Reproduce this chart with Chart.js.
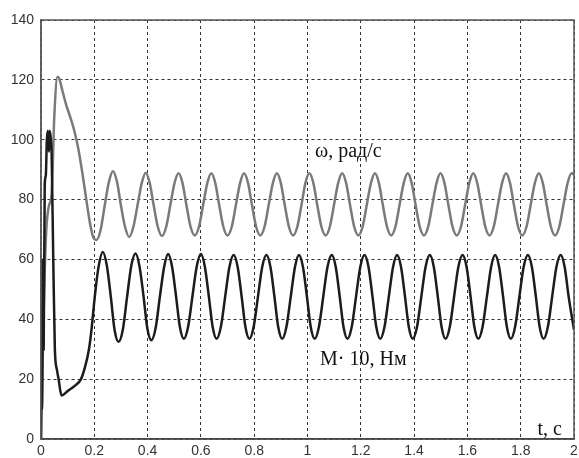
<!DOCTYPE html>
<html>
<head>
<meta charset="utf-8">
<script src="https://cdn.jsdelivr.net/npm/chart.js@4"></script>
<style>
  html, body { margin: 0; padding: 0; background: #fff; }
  #wrap { width: 579px; height: 458px; }
</style>
</head>
<body>
<div id="wrap"><canvas id="chart" width="579" height="458"></canvas></div>
<script>
// time ticks and value ticks
const xTicks = [0, 0.2, 0.4, 0.6, 0.8, 1, 1.2, 1.4, 1.6, 1.8, 2];
const yTicks = [0, 20, 40, 60, 80, 100, 120, 140];

// M·10, Nm (black) - start-up transient, then one row per oscillation
const mTime = [0, 0.002, 0.004, 0.007, 0.010, 0.014, 0.018, 0.022, 0.026, 0.030, 0.033, 0.037, 0.040, 0.046, 0.052, 0.060, 0.066, 0.077, 0.100, 0.130, 0.150, 0.165, 0.180, 0.190, 0.200, 0.215,
    0.232, 0.247, 0.262, 0.276, 0.291, 0.307, 0.323, 0.339,
    0.355, 0.370, 0.385, 0.399, 0.414, 0.430, 0.446, 0.462,
    0.477, 0.492, 0.507, 0.521, 0.536, 0.552, 0.568, 0.584,
    0.600, 0.615, 0.630, 0.644, 0.659, 0.675, 0.691, 0.707,
    0.723, 0.738, 0.753, 0.767, 0.782, 0.798, 0.814, 0.830,
    0.846, 0.861, 0.876, 0.890, 0.905, 0.921, 0.937, 0.953,
    0.968, 0.983, 0.998, 1.012, 1.027, 1.043, 1.059, 1.075,
    1.091, 1.106, 1.121, 1.135, 1.150, 1.166, 1.182, 1.198,
    1.214, 1.229, 1.244, 1.258, 1.273, 1.289, 1.305, 1.321,
    1.336, 1.351, 1.366, 1.380, 1.395, 1.411, 1.427, 1.443,
    1.459, 1.474, 1.489, 1.503, 1.518, 1.534, 1.550, 1.566,
    1.582, 1.597, 1.612, 1.626, 1.641, 1.657, 1.673, 1.689,
    1.704, 1.719, 1.734, 1.748, 1.763, 1.779, 1.795, 1.811,
    1.827, 1.842, 1.857, 1.871, 1.886, 1.902, 1.918, 1.934,
    1.950, 1.965, 1.980, 2.000];
const mValue = [0, 45, 10, 60, 30, 85, 88, 100, 103, 96, 103, 100, 95, 60, 30, 23, 20, 14.5, 16, 18, 20, 24, 30, 37, 46, 57,
    62.5, 58, 47.5, 36.5, 32.5, 36.5, 47.5, 58,
    62, 57.5, 47.5, 37, 33, 37, 47.5, 57.5,
    61.8, 57.5, 47.5, 37.5, 33.5, 37.5, 47.5, 57.5,
    61.8, 57.5, 47.5, 37.5, 33.5, 37.5, 47.5, 57.5,
    61.5, 57.5, 47.5, 37.5, 33.5, 37.5, 47.5, 57.5,
    61.5, 57.5, 47.5, 37.5, 33.5, 37.5, 47.5, 57.5,
    61.5, 57.5, 47.5, 37.5, 33.5, 37.5, 47.5, 57.5,
    61.5, 57.5, 47.5, 37.5, 33.5, 37.5, 47.5, 57.5,
    61.5, 57.5, 47.5, 37.5, 33.5, 37.5, 47.5, 57.5,
    61.5, 57.5, 47.5, 37.5, 33.5, 37.5, 47.5, 57.5,
    61.5, 57.5, 47.5, 37.5, 33.5, 37.5, 47.5, 57.5,
    61.5, 57.5, 47.5, 37.5, 33.5, 37.5, 47.5, 57.5,
    61.5, 57.5, 47.5, 37.5, 33.5, 37.5, 47.5, 57.5,
    61.5, 57.5, 47.5, 37.5, 33.5, 37.5, 47.5, 57.5,
    61.5, 57.5, 47.5, 36.5];

// omega, rad/s (gray) - start-up transient, then one row per oscillation
const omegaTime = [0, 0.005, 0.012, 0.020, 0.030, 0.040, 0.050, 0.062, 0.070, 0.080, 0.095, 0.110, 0.125, 0.140, 0.155, 0.170, 0.185, 0.198,
    0.208, 0.224, 0.239, 0.255, 0.270, 0.285, 0.300, 0.315,
    0.331, 0.347, 0.362, 0.378, 0.393, 0.408, 0.423, 0.438,
    0.454, 0.470, 0.485, 0.501, 0.516, 0.531, 0.546, 0.561,
    0.577, 0.593, 0.608, 0.624, 0.639, 0.654, 0.669, 0.684,
    0.700, 0.716, 0.731, 0.747, 0.762, 0.777, 0.792, 0.807,
    0.823, 0.839, 0.854, 0.870, 0.885, 0.900, 0.915, 0.930,
    0.946, 0.962, 0.977, 0.992, 1.007, 1.022, 1.037, 1.052,
    1.068, 1.084, 1.099, 1.115, 1.130, 1.145, 1.160, 1.175,
    1.191, 1.207, 1.222, 1.238, 1.253, 1.268, 1.283, 1.298,
    1.314, 1.330, 1.345, 1.361, 1.376, 1.391, 1.406, 1.421,
    1.437, 1.453, 1.468, 1.484, 1.499, 1.514, 1.529, 1.544,
    1.560, 1.576, 1.591, 1.607, 1.622, 1.637, 1.652, 1.667,
    1.683, 1.699, 1.714, 1.730, 1.745, 1.760, 1.775, 1.790,
    1.806, 1.822, 1.837, 1.853, 1.868, 1.883, 1.898, 1.913,
    1.929, 1.945, 1.960, 1.976, 1.991, 2.000];
const omegaValue = [0, 20, 50, 70, 78, 82, 108, 121, 120, 116.5, 111.5, 107.5, 103, 97, 89, 80, 71.5, 67,
    66.5, 70, 78, 86, 89.5, 86, 78, 71,
    67.5, 71, 78, 85.5, 89, 85.5, 78, 71,
    67.8, 71, 78, 85.5, 88.8, 85.5, 78, 71,
    68, 71, 78, 85.5, 88.8, 85.5, 78, 71,
    68, 71, 78, 85.5, 88.8, 85.5, 78, 71,
    68, 71, 78, 85.5, 88.8, 85.5, 78, 71,
    68, 71, 78, 85.5, 88.8, 85.5, 78, 71,
    68, 71, 78, 85.5, 88.8, 85.5, 78, 71,
    68, 71, 78, 85.5, 88.8, 85.5, 78, 71,
    68, 71, 78, 85.5, 88.8, 85.5, 78, 71,
    68, 71, 78, 85.5, 88.8, 85.5, 78, 71,
    68, 71, 78, 85.5, 88.8, 85.5, 78, 71,
    68, 71, 78, 85.5, 88.8, 85.5, 78, 71,
    68, 71, 78, 85.5, 88.8, 85.5, 78, 71,
    68, 71, 78, 85.5, 88.8, 88.3];

// text labels placed in data coordinates
const notes = [
    { text: 'ω, рад/с', t: 1.028, v: 96 },
    { text: 'M· 10, Нм', t: 1.047, v: 26.5 },
    { text: 't, c', t: 1.863, v: 3 }
];

const toPoints = (ts, vs) => ts.map((t, i) => ({ x: t, y: vs[i] }));

const notesPlugin = {
    id: 'notes',
    afterDatasetsDraw(chart) {
        const ctx = chart.ctx;
        const xs = chart.scales.x, ys = chart.scales.y;
        const a = chart.chartArea;
        ctx.save();
        // frame round the plot
        ctx.strokeStyle = '#555';
        ctx.lineWidth = 1.5;
        ctx.strokeRect(a.left, a.top, a.right - a.left, a.bottom - a.top);
        ctx.fillStyle = '#111';
        ctx.font = '20px "Liberation Serif", "Times New Roman", serif';
        ctx.textAlign = 'left';
        ctx.textBaseline = 'middle';
        notes.forEach(n => {
            ctx.fillText(n.text, xs.getPixelForValue(n.t), ys.getPixelForValue(n.v));
        });
        ctx.restore();
    }
};

new Chart(document.getElementById('chart').getContext('2d'), {
    type: 'line',
    data: {
        datasets: [{
            label: 'M·10, Нм',
            data: toPoints(mTime, mValue),
            borderColor: '#1c1c1c',
            borderWidth: 2.5,
            pointRadius: 0,
            cubicInterpolationMode: 'monotone',
            fill: false
        }, {
            label: 'ω, рад/с',
            data: toPoints(omegaTime, omegaValue),
            borderColor: '#7a7a7a',
            borderWidth: 2.5,
            pointRadius: 0,
            cubicInterpolationMode: 'monotone',
            fill: false
        }]
    },
    options: {
        responsive: false,
        animation: false,
        layout: { padding: { top: 20, right: 5, left: 0, bottom: 0 } },
        plugins: {
            legend: { display: false },
            tooltip: { enabled: false }
        },
        scales: {
            x: {
                type: 'linear',
                min: 0,
                max: 2,
                afterFit: s => { s.height = 19; s.paddingLeft = 0; s.paddingRight = 0; },
                afterBuildTicks: s => { s.ticks = xTicks.map(v => ({ value: v })); },
                ticks: {
                    color: '#333',
                    padding: 4,
                    maxRotation: 0,
                    font: { family: 'Arial, "Liberation Sans", sans-serif', size: 14 },
                    callback: v => String(v)
                },
                grid: { color: '#333', lineWidth: 1, drawTicks: false },
                border: { color: '#222', width: 1.5, dash: [3, 3] }
            },
            y: {
                min: 0,
                max: 140,
                afterFit: s => { s.width = 41; s.paddingTop = 0; s.paddingBottom = 0; },
                afterBuildTicks: s => { s.ticks = yTicks.map(v => ({ value: v })); },
                ticks: {
                    color: '#333',
                    padding: 7,
                    font: { family: 'Arial, "Liberation Sans", sans-serif', size: 14 },
                    callback: v => String(v)
                },
                grid: { color: '#333', lineWidth: 1, drawTicks: false },
                border: { color: '#777', width: 1.5, dash: [3, 3] }
            }
        }
    },
    plugins: [notesPlugin]
});
</script>
</body>
</html>
